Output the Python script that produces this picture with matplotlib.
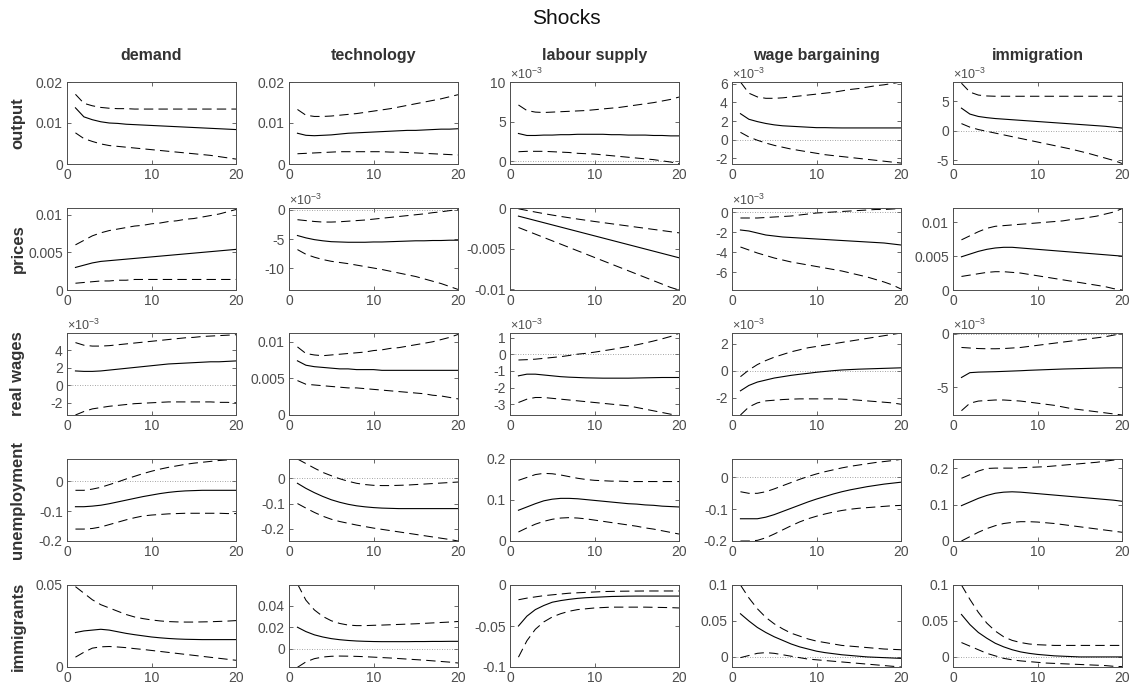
import matplotlib
matplotlib.use("Agg")
import matplotlib.pyplot as plt
import numpy as np
from matplotlib.ticker import FuncFormatter

plt.rcParams["font.family"] = ["Liberation Sans", "DejaVu Sans"]
plt.rcParams["axes.unicode_minus"] = False
plt.rcParams["mathtext.fontset"] = "custom"
plt.rcParams["mathtext.rm"] = "Liberation Sans"

shocks = ["demand", "technology", "labour supply", "wage bargaining", "immigration"]
variables = ["output", "prices", "real wages", "unemployment", "immigrants"]
horizon = list(range(1, 21))

# ---- output ----
out_demand_med = [0.0137, 0.0115, 0.0108, 0.0103, 0.0100, 0.0099, 0.0097, 0.0096, 0.0095, 0.0094, 0.0093, 0.0092, 0.0091, 0.0090, 0.0089, 0.0088, 0.0087, 0.0086, 0.0085, 0.0084]
out_demand_hi = [0.0170, 0.0148, 0.0142, 0.0138, 0.0136, 0.0135, 0.0135, 0.0134, 0.0134, 0.0134, 0.0134, 0.0134, 0.0134, 0.0134, 0.0134, 0.0134, 0.0134, 0.0134, 0.0134, 0.0134]
out_demand_lo = [0.0076, 0.0062, 0.0055, 0.0049, 0.0045, 0.0043, 0.0041, 0.0039, 0.0037, 0.0035, 0.0033, 0.0031, 0.0029, 0.0027, 0.0025, 0.0023, 0.0021, 0.0018, 0.0015, 0.0012]
out_tech_med = [0.0075, 0.0070, 0.0069, 0.0070, 0.0071, 0.0073, 0.0075, 0.0076, 0.0077, 0.0078, 0.0079, 0.0080, 0.0081, 0.0082, 0.0082, 0.0083, 0.0084, 0.0085, 0.0085, 0.0086]
out_tech_hi = [0.0133, 0.0119, 0.0116, 0.0116, 0.0117, 0.0119, 0.0121, 0.0123, 0.0126, 0.0129, 0.0132, 0.0135, 0.0139, 0.0143, 0.0147, 0.0151, 0.0155, 0.0159, 0.0164, 0.0169]
out_tech_lo = [0.0025, 0.0026, 0.0027, 0.0028, 0.0029, 0.0030, 0.0030, 0.0030, 0.0030, 0.0030, 0.0030, 0.0029, 0.0029, 0.0028, 0.0027, 0.0026, 0.0025, 0.0024, 0.0023, 0.0022]
out_lab_med = [3.5, 3.25, 3.25, 3.3, 3.3, 3.35, 3.35, 3.4, 3.4, 3.4, 3.4, 3.35, 3.35, 3.3, 3.3, 3.3, 3.25, 3.25, 3.2, 3.2]
out_lab_hi = [7.1, 6.4, 6.2, 6.15, 6.2, 6.25, 6.3, 6.35, 6.4, 6.5, 6.6, 6.7, 6.8, 6.95, 7.1, 7.25, 7.4, 7.6, 7.8, 8.1]
out_lab_lo = [1.2, 1.25, 1.25, 1.25, 1.2, 1.15, 1.1, 1.0, 0.95, 0.9, 0.8, 0.7, 0.6, 0.5, 0.4, 0.3, 0.2, 0.05, -0.1, -0.3]
out_wage_med = [2.8, 2.2, 1.95, 1.75, 1.6, 1.5, 1.45, 1.4, 1.35, 1.3, 1.3, 1.28, 1.27, 1.27, 1.27, 1.27, 1.27, 1.27, 1.27, 1.27]
out_wage_hi = [6.2, 5.0, 4.6, 4.45, 4.45, 4.5, 4.6, 4.7, 4.8, 4.9, 5.0, 5.1, 5.25, 5.4, 5.5, 5.65, 5.8, 5.9, 6.05, 6.2]
out_wage_lo = [0.8, 0.3, -0.05, -0.35, -0.6, -0.8, -1.0, -1.15, -1.3, -1.45, -1.6, -1.7, -1.8, -1.9, -2.0, -2.1, -2.2, -2.3, -2.4, -2.5]
out_imm_med = [3.8, 2.8, 2.4, 2.2, 2.05, 1.95, 1.85, 1.75, 1.65, 1.55, 1.45, 1.35, 1.25, 1.15, 1.05, 0.95, 0.85, 0.75, 0.6, 0.45]
out_imm_hi = [8.0, 6.5, 6.0, 5.85, 5.8, 5.8, 5.8, 5.8, 5.8, 5.8, 5.8, 5.8, 5.8, 5.8, 5.8, 5.8, 5.8, 5.8, 5.8, 5.8]
out_imm_lo = [1.2, 0.6, 0.2, -0.1, -0.4, -0.7, -1.0, -1.3, -1.6, -1.9, -2.2, -2.5, -2.8, -3.1, -3.45, -3.8, -4.2, -4.6, -5.0, -5.5]

# ---- prices ----
pr_demand_med = [0.0030, 0.0033, 0.0036, 0.0038, 0.0039, 0.0040, 0.0041, 0.0042, 0.0043, 0.0044, 0.0045, 0.0046, 0.0047, 0.0048, 0.0049, 0.0050, 0.0051, 0.0052, 0.0053, 0.0054]
pr_demand_hi = [0.0060, 0.0066, 0.0072, 0.0076, 0.0079, 0.0081, 0.0083, 0.0085, 0.0086, 0.0088, 0.0089, 0.0091, 0.0092, 0.0094, 0.0095, 0.0097, 0.0099, 0.0101, 0.0104, 0.0107]
pr_demand_lo = [0.0009, 0.0010, 0.0011, 0.0012, 0.0012, 0.0013, 0.0013, 0.0014, 0.0014, 0.0014, 0.0014, 0.0014, 0.0014, 0.0014, 0.0014, 0.0014, 0.0014, 0.0014, 0.0014, 0.0014]
pr_tech_med = [-4.4, -4.8, -5.1, -5.3, -5.45, -5.5, -5.55, -5.55, -5.55, -5.5, -5.5, -5.45, -5.4, -5.35, -5.3, -5.3, -5.25, -5.25, -5.2, -5.2]
pr_tech_hi = [-1.7, -1.85, -2.0, -2.1, -2.1, -2.05, -1.95, -1.85, -1.75, -1.6, -1.45, -1.3, -1.15, -1.0, -0.85, -0.7, -0.5, -0.35, -0.15, 0.0]
pr_tech_lo = [-6.8, -7.6, -8.1, -8.5, -8.8, -9.0, -9.2, -9.45, -9.7, -9.95, -10.2, -10.5, -10.8, -11.1, -11.4, -11.8, -12.2, -12.6, -13.1, -13.6]
pr_lab_med = [-0.00100, -0.00127, -0.00154, -0.00181, -0.00208, -0.00235, -0.00262, -0.00289, -0.00316, -0.00343, -0.00370, -0.00397, -0.00424, -0.00451, -0.00478, -0.00505, -0.00532, -0.00559, -0.00586, -0.00613]
pr_lab_hi = [-0.00010, -0.00030, -0.00050, -0.00069, -0.00087, -0.00104, -0.00120, -0.00136, -0.00151, -0.00166, -0.00180, -0.00194, -0.00208, -0.00222, -0.00236, -0.00250, -0.00264, -0.00278, -0.00292, -0.00306]
pr_lab_lo = [-0.00240, -0.00281, -0.00322, -0.00363, -0.00404, -0.00445, -0.00486, -0.00527, -0.00568, -0.00609, -0.00650, -0.00691, -0.00732, -0.00773, -0.00814, -0.00855, -0.00896, -0.00937, -0.00978, -0.01010]
pr_wage_med = [-1.8, -1.9, -2.1, -2.3, -2.4, -2.5, -2.55, -2.6, -2.65, -2.7, -2.75, -2.8, -2.85, -2.9, -2.95, -3.0, -3.05, -3.1, -3.2, -3.3]
pr_wage_hi = [-0.6, -0.6, -0.6, -0.55, -0.5, -0.45, -0.4, -0.3, -0.2, -0.1, -0.05, 0.0, 0.05, 0.1, 0.15, 0.2, 0.25, 0.25, 0.3, 0.35]
pr_wage_lo = [-3.5, -3.8, -4.1, -4.35, -4.6, -4.8, -5.0, -5.15, -5.3, -5.45, -5.6, -5.75, -5.9, -6.1, -6.3, -6.5, -6.75, -7.0, -7.3, -7.7]
pr_imm_med = [0.0049, 0.0053, 0.0057, 0.0060, 0.0062, 0.0063, 0.0063, 0.0062, 0.0061, 0.0060, 0.0059, 0.0058, 0.0057, 0.0056, 0.0055, 0.0054, 0.0053, 0.0052, 0.0051, 0.0050]
pr_imm_hi = [0.0074, 0.0080, 0.0086, 0.0091, 0.0094, 0.0095, 0.0096, 0.0097, 0.0098, 0.0099, 0.0100, 0.0101, 0.0102, 0.0104, 0.0105, 0.0107, 0.0109, 0.0112, 0.0115, 0.0120]
pr_imm_lo = [0.0020, 0.0022, 0.0024, 0.0026, 0.0027, 0.0027, 0.0026, 0.0025, 0.0023, 0.0021, 0.0019, 0.0017, 0.0015, 0.0013, 0.0011, 0.0009, 0.0007, 0.0005, 0.0002, 0.0000]

# ---- real wages ----
rw_demand_med = [1.65, 1.6, 1.6, 1.65, 1.75, 1.85, 1.95, 2.05, 2.15, 2.25, 2.35, 2.45, 2.5, 2.55, 2.6, 2.65, 2.7, 2.7, 2.75, 2.8]
rw_demand_hi = [4.9, 4.6, 4.5, 4.5, 4.55, 4.65, 4.75, 4.85, 4.95, 5.05, 5.15, 5.25, 5.35, 5.45, 5.5, 5.6, 5.65, 5.7, 5.75, 5.8]
rw_demand_lo = [-3.4, -3.0, -2.7, -2.55, -2.4, -2.3, -2.2, -2.1, -2.05, -2.0, -1.95, -1.9, -1.9, -1.9, -1.9, -1.9, -1.9, -1.95, -1.95, -2.0]
rw_tech_med = [0.0074, 0.0068, 0.0066, 0.0065, 0.0064, 0.0063, 0.0063, 0.0062, 0.0062, 0.0062, 0.0061, 0.0061, 0.0061, 0.0061, 0.0061, 0.0061, 0.0061, 0.0061, 0.0061, 0.0061]
rw_tech_hi = [0.0093, 0.0084, 0.0082, 0.0081, 0.0082, 0.0083, 0.0084, 0.0085, 0.0086, 0.0088, 0.0089, 0.0091, 0.0092, 0.0094, 0.0096, 0.0098, 0.0100, 0.0103, 0.0106, 0.0110]
rw_tech_lo = [0.0047, 0.0042, 0.0041, 0.0040, 0.0039, 0.0038, 0.0037, 0.0037, 0.0036, 0.0035, 0.0034, 0.0033, 0.0032, 0.0031, 0.0030, 0.0029, 0.0027, 0.0026, 0.0024, 0.0022]
rw_lab_med = [-1.3, -1.2, -1.2, -1.25, -1.3, -1.35, -1.38, -1.4, -1.42, -1.43, -1.44, -1.44, -1.44, -1.44, -1.43, -1.42, -1.41, -1.4, -1.4, -1.4]
rw_lab_hi = [-0.35, -0.33, -0.3, -0.25, -0.2, -0.15, -0.08, 0.0, 0.05, 0.12, 0.2, 0.28, 0.37, 0.46, 0.56, 0.67, 0.79, 0.92, 1.06, 1.25]
rw_lab_lo = [-2.9, -2.7, -2.6, -2.6, -2.65, -2.7, -2.75, -2.8, -2.85, -2.9, -2.95, -3.0, -3.05, -3.1, -3.2, -3.3, -3.4, -3.5, -3.6, -3.7]
rw_wage_med = [-1.5, -1.1, -0.85, -0.7, -0.55, -0.45, -0.35, -0.27, -0.2, -0.12, -0.06, 0.0, 0.05, 0.08, 0.11, 0.13, 0.15, 0.17, 0.19, 0.21]
rw_wage_hi = [-0.45, 0.05, 0.45, 0.75, 1.0, 1.2, 1.4, 1.55, 1.7, 1.8, 1.9, 2.0, 2.1, 2.2, 2.3, 2.4, 2.5, 2.6, 2.7, 2.8]
rw_wage_lo = [-3.3, -2.7, -2.4, -2.25, -2.2, -2.15, -2.12, -2.1, -2.1, -2.1, -2.1, -2.1, -2.12, -2.15, -2.2, -2.25, -2.3, -2.35, -2.4, -2.5]
rw_imm_med = [-4.1, -3.65, -3.6, -3.58, -3.56, -3.53, -3.5, -3.47, -3.43, -3.4, -3.37, -3.34, -3.31, -3.29, -3.27, -3.25, -3.23, -3.21, -3.2, -3.2]
rw_imm_hi = [-1.3, -1.35, -1.4, -1.42, -1.42, -1.4, -1.35, -1.3, -1.2, -1.1, -1.0, -0.9, -0.8, -0.7, -0.6, -0.5, -0.4, -0.3, -0.15, 0.0]
rw_imm_lo = [-7.2, -6.5, -6.3, -6.25, -6.2, -6.2, -6.25, -6.3, -6.4, -6.5, -6.6, -6.7, -6.85, -7.0, -7.1, -7.2, -7.3, -7.4, -7.5, -7.6]

# ---- unemployment ----
un_demand_med = [-0.085, -0.085, -0.083, -0.080, -0.075, -0.069, -0.063, -0.057, -0.051, -0.046, -0.041, -0.037, -0.034, -0.032, -0.031, -0.030, -0.030, -0.030, -0.030, -0.030]
un_demand_hi = [-0.030, -0.030, -0.026, -0.020, -0.011, -0.002, 0.008, 0.017, 0.026, 0.034, 0.041, 0.047, 0.052, 0.057, 0.061, 0.064, 0.067, 0.070, 0.072, 0.074]
un_demand_lo = [-0.160, -0.160, -0.158, -0.153, -0.145, -0.137, -0.129, -0.122, -0.116, -0.113, -0.111, -0.109, -0.108, -0.107, -0.107, -0.107, -0.107, -0.107, -0.108, -0.108]
un_tech_med = [-0.020, -0.040, -0.057, -0.072, -0.085, -0.095, -0.103, -0.109, -0.113, -0.116, -0.118, -0.119, -0.120, -0.120, -0.120, -0.120, -0.120, -0.120, -0.120, -0.120]
un_tech_hi = [0.076, 0.058, 0.040, 0.023, 0.010, -0.002, -0.012, -0.020, -0.025, -0.028, -0.029, -0.029, -0.028, -0.027, -0.025, -0.023, -0.021, -0.019, -0.017, -0.015]
un_tech_lo = [-0.100, -0.118, -0.135, -0.150, -0.162, -0.171, -0.178, -0.185, -0.191, -0.197, -0.202, -0.207, -0.212, -0.217, -0.222, -0.227, -0.232, -0.237, -0.242, -0.248]
un_lab_med = [0.075, 0.083, 0.091, 0.098, 0.102, 0.104, 0.104, 0.103, 0.101, 0.099, 0.097, 0.095, 0.093, 0.091, 0.090, 0.088, 0.087, 0.085, 0.084, 0.083]
un_lab_hi = [0.148, 0.155, 0.162, 0.165, 0.164, 0.161, 0.157, 0.153, 0.150, 0.148, 0.147, 0.146, 0.146, 0.145, 0.145, 0.145, 0.145, 0.145, 0.145, 0.145]
un_lab_lo = [0.022, 0.032, 0.041, 0.048, 0.053, 0.056, 0.057, 0.056, 0.054, 0.051, 0.048, 0.045, 0.042, 0.039, 0.036, 0.032, 0.029, 0.025, 0.021, 0.017]
un_wage_med = [-0.130, -0.130, -0.130, -0.125, -0.117, -0.107, -0.097, -0.087, -0.077, -0.068, -0.060, -0.052, -0.045, -0.039, -0.034, -0.029, -0.025, -0.021, -0.018, -0.015]
un_wage_hi = [-0.045, -0.050, -0.050, -0.045, -0.036, -0.026, -0.016, -0.006, 0.003, 0.011, 0.018, 0.024, 0.030, 0.035, 0.039, 0.043, 0.047, 0.050, 0.053, 0.057]
un_wage_lo = [-0.200, -0.200, -0.198, -0.190, -0.178, -0.165, -0.152, -0.140, -0.130, -0.122, -0.115, -0.109, -0.104, -0.100, -0.097, -0.095, -0.093, -0.091, -0.089, -0.088]
un_imm_med = [0.097, 0.107, 0.117, 0.125, 0.131, 0.134, 0.135, 0.134, 0.132, 0.130, 0.128, 0.126, 0.124, 0.122, 0.120, 0.118, 0.116, 0.114, 0.112, 0.109]
un_imm_hi = [0.172, 0.182, 0.192, 0.199, 0.200, 0.200, 0.200, 0.201, 0.202, 0.203, 0.204, 0.206, 0.208, 0.210, 0.212, 0.214, 0.216, 0.219, 0.222, 0.225]
un_imm_lo = [0.000, 0.012, 0.024, 0.034, 0.042, 0.048, 0.051, 0.053, 0.053, 0.052, 0.050, 0.048, 0.045, 0.042, 0.039, 0.036, 0.033, 0.030, 0.027, 0.024]

# ---- immigrants ----
im_demand_med = [0.021, 0.022, 0.0225, 0.023, 0.0225, 0.0215, 0.0205, 0.0197, 0.019, 0.0183, 0.0178, 0.0174, 0.0171, 0.0169, 0.0168, 0.0167, 0.0167, 0.0167, 0.0167, 0.0167]
im_demand_hi = [0.049, 0.045, 0.041, 0.038, 0.036, 0.034, 0.032, 0.0305, 0.0295, 0.0287, 0.0281, 0.0277, 0.0275, 0.0274, 0.0274, 0.0275, 0.0276, 0.0278, 0.0280, 0.0283]
im_demand_lo = [0.006, 0.009, 0.0115, 0.0123, 0.0125, 0.0122, 0.0118, 0.0112, 0.0107, 0.0101, 0.0095, 0.0089, 0.0083, 0.0077, 0.0071, 0.0065, 0.0059, 0.0053, 0.0047, 0.0041]
im_tech_med = [0.020, 0.016, 0.013, 0.011, 0.0095, 0.0085, 0.0078, 0.0073, 0.007, 0.0068, 0.0067, 0.0067, 0.0067, 0.0067, 0.0068, 0.0068, 0.0069, 0.0069, 0.007, 0.007]
im_tech_hi = [0.060, 0.045, 0.036, 0.030, 0.026, 0.0235, 0.022, 0.0215, 0.0215, 0.0218, 0.022, 0.0223, 0.0226, 0.0229, 0.0232, 0.0236, 0.024, 0.0244, 0.0248, 0.0253]
im_tech_lo = [-0.017, -0.012, -0.009, -0.0075, -0.0068, -0.0066, -0.0067, -0.0069, -0.0072, -0.0076, -0.008, -0.0084, -0.0089, -0.0094, -0.0099, -0.0104, -0.011, -0.0116, -0.0122, -0.013]
im_lab_med = [-0.050, -0.038, -0.030, -0.025, -0.021, -0.019, -0.0175, -0.0163, -0.0155, -0.015, -0.0145, -0.014, -0.0138, -0.0136, -0.0135, -0.0135, -0.0135, -0.0135, -0.0135, -0.0135]
im_lab_hi = [-0.018, -0.016, -0.0145, -0.013, -0.012, -0.011, -0.010, -0.0095, -0.009, -0.0085, -0.008, -0.0078, -0.0076, -0.0075, -0.0074, -0.0073, -0.0073, -0.0073, -0.0073, -0.0073]
im_lab_lo = [-0.088, -0.068, -0.054, -0.045, -0.039, -0.035, -0.032, -0.030, -0.029, -0.028, -0.0275, -0.027, -0.027, -0.027, -0.027, -0.027, -0.0272, -0.0274, -0.0276, -0.028]
im_wage_med = [0.060, 0.050, 0.041, 0.034, 0.028, 0.023, 0.018, 0.014, 0.011, 0.008, 0.006, 0.0045, 0.003, 0.002, 0.001, 0.0, -0.0005, -0.001, -0.0015, -0.002]
im_wage_hi = [0.100, 0.082, 0.067, 0.055, 0.046, 0.039, 0.033, 0.029, 0.025, 0.022, 0.020, 0.018, 0.016, 0.015, 0.014, 0.013, 0.012, 0.011, 0.0105, 0.010]
im_wage_lo = [-0.001, 0.002, 0.005, 0.006, 0.005, 0.003, 0.001, -0.001, -0.003, -0.004, -0.005, -0.006, -0.007, -0.008, -0.009, -0.010, -0.011, -0.012, -0.013, -0.014]
im_imm_med = [0.059, 0.045, 0.034, 0.026, 0.019, 0.014, 0.010, 0.007, 0.005, 0.0035, 0.0025, 0.0015, 0.001, 0.0005, 0.0, 0.0, 0.0, 0.0, 0.0, 0.0]
im_imm_hi = [0.100, 0.080, 0.062, 0.047, 0.036, 0.028, 0.023, 0.020, 0.018, 0.017, 0.0165, 0.016, 0.016, 0.016, 0.016, 0.016, 0.016, 0.016, 0.016, 0.016]
im_imm_lo = [0.020, 0.015, 0.010, 0.005, 0.0015, -0.002, -0.004, -0.0055, -0.0065, -0.0075, -0.0085, -0.009, -0.0095, -0.010, -0.0105, -0.011, -0.0115, -0.012, -0.013, -0.0135]

# (median, lower, upper) per panel; rows = variables, cols = shocks
panels = [
    [(out_demand_med, out_demand_lo, out_demand_hi), (out_tech_med, out_tech_lo, out_tech_hi),
     (out_lab_med, out_lab_lo, out_lab_hi), (out_wage_med, out_wage_lo, out_wage_hi),
     (out_imm_med, out_imm_lo, out_imm_hi)],
    [(pr_demand_med, pr_demand_lo, pr_demand_hi), (pr_tech_med, pr_tech_lo, pr_tech_hi),
     (pr_lab_med, pr_lab_lo, pr_lab_hi), (pr_wage_med, pr_wage_lo, pr_wage_hi),
     (pr_imm_med, pr_imm_lo, pr_imm_hi)],
    [(rw_demand_med, rw_demand_lo, rw_demand_hi), (rw_tech_med, rw_tech_lo, rw_tech_hi),
     (rw_lab_med, rw_lab_lo, rw_lab_hi), (rw_wage_med, rw_wage_lo, rw_wage_hi),
     (rw_imm_med, rw_imm_lo, rw_imm_hi)],
    [(un_demand_med, un_demand_lo, un_demand_hi), (un_tech_med, un_tech_lo, un_tech_hi),
     (un_lab_med, un_lab_lo, un_lab_hi), (un_wage_med, un_wage_lo, un_wage_hi),
     (un_imm_med, un_imm_lo, un_imm_hi)],
    [(im_demand_med, im_demand_lo, im_demand_hi), (im_tech_med, im_tech_lo, im_tech_hi),
     (im_lab_med, im_lab_lo, im_lab_hi), (im_wage_med, im_wage_lo, im_wage_hi),
     (im_imm_med, im_imm_lo, im_imm_hi)],
]

# values above are given in units of `scales` (1e-3 panels show the x10^-3 label)
scales = [
    [1, 1, 1e-3, 1e-3, 1e-3],
    [1, 1e-3, 1, 1e-3, 1],
    [1e-3, 1, 1e-3, 1e-3, 1e-3],
    [1, 1, 1, 1, 1],
    [1, 1, 1, 1, 1],
]
ylims = [
    [(0, 0.02), (0, 0.02), (-0.35, 10), (-2.6, 6.2), (-5.6, 8.2)],
    [(0, 0.0109), (-13.7, 0.3), (-0.0101, 0), (-7.8, 0.4), (0, 0.0121)],
    [(-3.4, 6), (0, 0.0112), (-3.65, 1.27), (-3.3, 2.8), (-7.6, 0.05)],
    [(-0.2, 0.075), (-0.248, 0.076), (0, 0.2), (-0.2, 0.058), (0, 0.225)],
    [(0, 0.05), (-0.0167, 0.059), (-0.1, 0), (-0.014, 0.1), (-0.014, 0.1)],
]
yticks = [
    [[0, 0.01, 0.02], [0, 0.01, 0.02], [0, 5, 10], [-2, 0, 2, 4, 6], [-5, 0, 5]],
    [[0, 0.005, 0.01], [-10, -5, 0], [-0.01, -0.005, 0], [-6, -4, -2, 0], [0, 0.005, 0.01]],
    [[-2, 0, 2, 4], [0, 0.005, 0.01], [-3, -2, -1, 0, 1], [-2, 0, 2], [-5, 0]],
    [[-0.2, -0.1, 0], [-0.2, -0.1, 0], [0, 0.1, 0.2], [-0.2, -0.1, 0], [0, 0.1, 0.2]],
    [[0, 0.05], [0, 0.02, 0.04], [-0.1, -0.05, 0], [0, 0.05, 0.1], [0, 0.05, 0.1]],
]

W, H = 1132, 690
col_left = [67, 289, 510, 732, 953]
row_top = [82, 208, 333, 459, 585]
ax_w, ax_h = 169, 82

grey = "#4d4d4d"
fig = plt.figure(figsize=(W / 100, H / 100), dpi=100)
fig.text(0.5, 1 - 18 / H, "Shocks", ha="center", va="center", fontsize=15, color="#111111")

for r in range(5):
    for c in range(5):
        x0 = col_left[c] / W
        y0 = 1 - (row_top[r] + ax_h) / H
        ax = fig.add_axes([x0, y0, ax_w / W, ax_h / H])
        s = scales[r][c]
        med, lo, hi = (np.array(v) * s for v in panels[r][c])
        ax.axhline(0, color="#888888", lw=0.6, ls=(0, (1, 2)))
        ax.plot(horizon, hi, color="black", lw=0.75, dashes=(9, 5))
        ax.plot(horizon, lo, color="black", lw=0.75, dashes=(9, 5))
        ax.plot(horizon, med, color="black", lw=0.8)
        ax.set_xlim(0, 20)
        ax.set_xticks([0, 10, 20])
        ax.set_ylim(ylims[r][c][0] * s, ylims[r][c][1] * s)
        ax.set_yticks([t * s for t in yticks[r][c]])
        ax.yaxis.set_major_formatter(FuncFormatter(lambda v, p, s=s: f"{round(v / s, 6):g}"))
        ax.tick_params(direction="in", top=True, right=True, length=3, width=0.6,
                       labelsize=10, colors=grey, labelcolor=grey, pad=3)
        for sp in ax.spines.values():
            sp.set_color(grey)
            sp.set_linewidth(0.7)
        if s != 1:
            ax.text(0.0, 1.0, r"$\times\mathregular{10^{-3}}$", transform=ax.transAxes,
                    ha="left", va="bottom", fontsize=9, color=grey)
        if r == 0:
            ax.set_title(shocks[c], fontsize=11.5, fontweight="bold", color="#333333", pad=16)
        if c == 0:
            fig.text(18 / W, 1 - (row_top[r] + ax_h / 2) / H, variables[r], rotation=90,
                     ha="center", va="center", fontsize=12, fontweight="bold", color="#333333")

fig.savefig("out.png", dpi=100)
